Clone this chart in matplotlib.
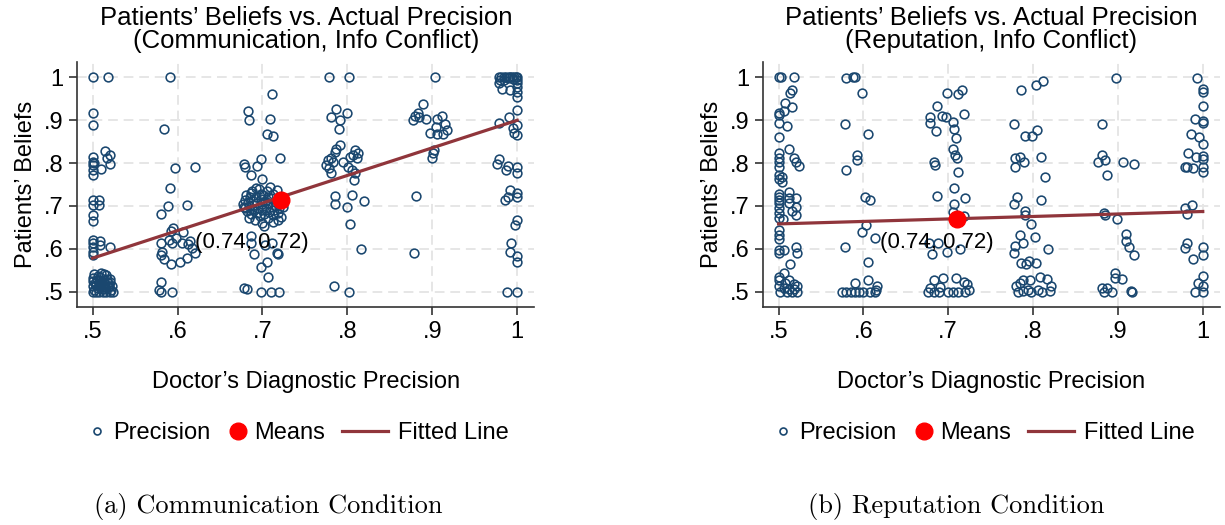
import numpy as np
import matplotlib
matplotlib.use("Agg")
import matplotlib.pyplot as plt
from matplotlib.lines import Line2D

plt.rcParams['font.family'] = ['Liberation Sans', 'DejaVu Sans']

# ---- data ----
ticks = [0.5, 0.6, 0.7, 0.8, 0.9, 1.0]
tick_labels = ['.5', '.6', '.7', '.8', '.9', '1']

comm_pts = [
    # precision .5
    (0.500, 1.000), (0.518, 1.000), (0.500, 0.918), (0.500, 0.889),
    (0.515, 0.829), (0.520, 0.819), (0.517, 0.811), (0.500, 0.815), (0.500, 0.803),
    (0.500, 0.795), (0.500, 0.784), (0.500, 0.772), (0.510, 0.786), (0.520, 0.798),
    (0.502, 0.800), (0.500, 0.714), (0.507, 0.715), (0.507, 0.702), (0.500, 0.702),
    (0.500, 0.679), (0.500, 0.665), (0.500, 0.620), (0.500, 0.613), (0.500, 0.605),
    (0.500, 0.593), (0.509, 0.617), (0.509, 0.609), (0.521, 0.603), (0.500, 0.585),
    (0.500, 0.500), (0.502, 0.504), (0.504, 0.500), (0.506, 0.508), (0.508, 0.500),
    (0.510, 0.512), (0.512, 0.500), (0.514, 0.506), (0.516, 0.500), (0.518, 0.510),
    (0.520, 0.500), (0.522, 0.504), (0.524, 0.500), (0.500, 0.512), (0.503, 0.520),
    (0.505, 0.528), (0.507, 0.516), (0.509, 0.534), (0.511, 0.524), (0.513, 0.540),
    (0.515, 0.518), (0.517, 0.530), (0.519, 0.514), (0.521, 0.522), (0.500, 0.532),
    (0.502, 0.540), (0.504, 0.516), (0.506, 0.536), (0.508, 0.526), (0.510, 0.544),
    (0.512, 0.516), (0.514, 0.528), (0.516, 0.538), (0.518, 0.520), (0.520, 0.530),
    (0.501, 0.524), (0.511, 0.505), (0.523, 0.512), (0.509, 0.520), (0.515, 0.511),
    # precision .6
    (0.591, 1.000), (0.584, 0.880), (0.597, 0.789), (0.620, 0.791), (0.591, 0.743),
    (0.589, 0.701), (0.580, 0.682), (0.611, 0.703), (0.592, 0.642), (0.595, 0.648),
    (0.590, 0.620), (0.580, 0.614), (0.593, 0.614), (0.607, 0.640), (0.605, 0.614),
    (0.615, 0.617), (0.621, 0.591), (0.617, 0.601), (0.580, 0.586), (0.584, 0.575),
    (0.592, 0.565), (0.603, 0.570), (0.611, 0.578), (0.582, 0.593), (0.598, 0.625),
    (0.612, 0.610), (0.580, 0.523), (0.578, 0.504), (0.581, 0.500), (0.594, 0.500),
    # precision .7
    (0.683, 0.922), (0.684, 0.900), (0.711, 0.962), (0.709, 0.903), (0.705, 0.868),
    (0.713, 0.863), (0.721, 0.811), (0.678, 0.799), (0.680, 0.790), (0.693, 0.793),
    (0.698, 0.809), (0.687, 0.772), (0.700, 0.764),
    (0.677, 0.705), (0.679, 0.715), (0.680, 0.695), (0.681, 0.725), (0.682, 0.688),
    (0.683, 0.710), (0.684, 0.700), (0.685, 0.720), (0.686, 0.680), (0.687, 0.730),
    (0.688, 0.692), (0.689, 0.712), (0.690, 0.702), (0.691, 0.668), (0.692, 0.722),
    (0.693, 0.684), (0.694, 0.708), (0.695, 0.696), (0.696, 0.740), (0.697, 0.676),
    (0.698, 0.716), (0.699, 0.690), (0.700, 0.704), (0.700, 0.660), (0.701, 0.726),
    (0.702, 0.682), (0.703, 0.712), (0.704, 0.694), (0.705, 0.735), (0.706, 0.672),
    (0.707, 0.706), (0.708, 0.686), (0.709, 0.744), (0.710, 0.718), (0.711, 0.698),
    (0.712, 0.678), (0.713, 0.728), (0.714, 0.690), (0.715, 0.710), (0.716, 0.700),
    (0.717, 0.738), (0.718, 0.684), (0.719, 0.720), (0.720, 0.694), (0.721, 0.706),
    (0.722, 0.674), (0.723, 0.714), (0.724, 0.698), (0.684, 0.672), (0.692, 0.742),
    (0.702, 0.652), (0.712, 0.662), (0.688, 0.735), (0.698, 0.728), (0.718, 0.668),
    (0.678, 0.698), (0.690, 0.690), (0.706, 0.722),
    (0.686, 0.630), (0.687, 0.614), (0.690, 0.587), (0.703, 0.609), (0.711, 0.614),
    (0.717, 0.591), (0.718, 0.588), (0.698, 0.557), (0.707, 0.533), (0.705, 0.570),
    (0.678, 0.508), (0.682, 0.506), (0.698, 0.500), (0.710, 0.500), (0.719, 0.500),
    # precision .8
    (0.778, 1.000), (0.802, 1.000), (0.787, 0.926), (0.781, 0.907), (0.791, 0.900),
    (0.799, 0.916), (0.790, 0.880), (0.777, 0.807), (0.781, 0.811), (0.783, 0.803),
    (0.775, 0.795), (0.778, 0.788), (0.787, 0.834), (0.791, 0.842), (0.786, 0.826),
    (0.795, 0.803), (0.803, 0.815), (0.809, 0.830), (0.813, 0.824), (0.807, 0.818),
    (0.811, 0.812), (0.801, 0.792), (0.805, 0.784), (0.809, 0.776), (0.808, 0.761),
    (0.781, 0.776), (0.786, 0.723), (0.785, 0.704), (0.805, 0.726), (0.800, 0.698),
    (0.820, 0.712), (0.803, 0.657), (0.816, 0.599), (0.784, 0.513), (0.802, 0.500),
    # precision .9
    (0.903, 1.000), (0.889, 0.937), (0.883, 0.916), (0.880, 0.910), (0.877, 0.900),
    (0.884, 0.907), (0.893, 0.902), (0.905, 0.904), (0.911, 0.911), (0.915, 0.891),
    (0.917, 0.877), (0.913, 0.869), (0.904, 0.885), (0.897, 0.871), (0.906, 0.869),
    (0.902, 0.831), (0.901, 0.824), (0.900, 0.811), (0.881, 0.724), (0.878, 0.591),
    # precision 1
    (0.978, 1.000), (0.981, 1.000), (0.984, 1.000), (0.987, 1.000), (0.990, 1.000),
    (0.992, 1.000), (0.994, 1.000), (0.996, 1.000), (0.998, 1.000), (1.000, 1.000),
    (0.980, 0.995), (0.985, 0.994), (0.995, 0.996), (1.000, 0.993), (1.000, 0.988),
    (0.989, 0.998), (0.979, 0.988), (0.982, 0.972), (0.992, 0.970), (1.000, 0.978),
    (1.000, 0.966), (1.000, 0.955), (1.000, 0.924), (0.990, 0.907), (0.978, 0.894),
    (1.000, 0.889), (0.995, 0.881), (0.996, 0.871), (1.000, 0.866), (0.978, 0.809),
    (0.976, 0.799), (0.989, 0.793), (1.000, 0.792), (0.987, 0.784), (1.000, 0.778),
    (0.992, 0.737), (1.000, 0.731), (0.989, 0.722), (1.000, 0.722), (0.986, 0.714),
    (1.000, 0.666), (0.997, 0.656), (0.993, 0.614), (0.992, 0.593), (1.000, 0.582),
    (1.000, 0.568), (0.988, 0.500), (1.000, 0.500),
]

rep_pts = [
    # precision .5
    (0.500, 1.000), (0.503, 1.000), (0.518, 1.000), (0.516, 0.970), (0.514, 0.964),
    (0.508, 0.941), (0.516, 0.930), (0.506, 0.922), (0.500, 0.916), (0.501, 0.912),
    (0.510, 0.886), (0.500, 0.893), (0.500, 0.862), (0.512, 0.834), (0.500, 0.824),
    (0.500, 0.811), (0.500, 0.803), (0.518, 0.813), (0.520, 0.803), (0.524, 0.793),
    (0.500, 0.792), (0.501, 0.772), (0.504, 0.768), (0.500, 0.764), (0.504, 0.757),
    (0.500, 0.729), (0.512, 0.733), (0.500, 0.722), (0.512, 0.718), (0.520, 0.719),
    (0.500, 0.714), (0.500, 0.706), (0.512, 0.706), (0.521, 0.698), (0.500, 0.694),
    (0.516, 0.687), (0.520, 0.679), (0.500, 0.683), (0.500, 0.671), (0.505, 0.669),
    (0.500, 0.644), (0.500, 0.632), (0.500, 0.623), (0.500, 0.597), (0.500, 0.591),
    (0.506, 0.596), (0.520, 0.603), (0.522, 0.591), (0.514, 0.565),
    (0.506, 0.544), (0.500, 0.535), (0.500, 0.527), (0.512, 0.527), (0.508, 0.521),
    (0.518, 0.518), (0.500, 0.512), (0.506, 0.508), (0.512, 0.506), (0.518, 0.505),
    (0.522, 0.512), (0.502, 0.500), (0.510, 0.500), (0.522, 0.500), (0.516, 0.500),
    # precision .6
    (0.580, 0.998), (0.588, 1.000), (0.590, 1.000), (0.598, 0.964), (0.578, 0.891),
    (0.605, 0.868), (0.592, 0.819), (0.593, 0.807), (0.580, 0.785), (0.602, 0.722),
    (0.608, 0.715), (0.603, 0.656), (0.598, 0.638), (0.614, 0.624), (0.578, 0.603),
    (0.605, 0.569), (0.590, 0.521), (0.605, 0.526), (0.616, 0.513), (0.615, 0.504),
    (0.575, 0.500), (0.580, 0.500), (0.585, 0.500), (0.590, 0.500), (0.595, 0.500),
    (0.600, 0.500), (0.608, 0.500), (0.614, 0.500),
    # precision .7
    (0.699, 0.963), (0.711, 0.961), (0.716, 0.971), (0.687, 0.934), (0.678, 0.908),
    (0.693, 0.910), (0.697, 0.908), (0.678, 0.893), (0.685, 0.876), (0.706, 0.897),
    (0.707, 0.879), (0.719, 0.914), (0.709, 0.858), (0.706, 0.833), (0.708, 0.820),
    (0.710, 0.813), (0.683, 0.803), (0.684, 0.795), (0.711, 0.779), (0.707, 0.743),
    (0.687, 0.724), (0.720, 0.718), (0.707, 0.705), (0.706, 0.685), (0.719, 0.677),
    (0.677, 0.614), (0.681, 0.588), (0.688, 0.614), (0.698, 0.593), (0.714, 0.599),
    (0.683, 0.527), (0.694, 0.531), (0.709, 0.531), (0.718, 0.523), (0.722, 0.518),
    (0.679, 0.508), (0.690, 0.510), (0.676, 0.500), (0.683, 0.500), (0.689, 0.500),
    (0.700, 0.500), (0.706, 0.500), (0.712, 0.500), (0.720, 0.500), (0.724, 0.504),
    # precision .8
    (0.786, 0.970), (0.803, 0.982), (0.812, 0.992), (0.778, 0.891), (0.790, 0.864),
    (0.799, 0.864), (0.805, 0.877), (0.779, 0.811), (0.784, 0.815), (0.779, 0.792),
    (0.789, 0.802), (0.809, 0.815), (0.814, 0.768), (0.781, 0.720), (0.777, 0.705),
    (0.809, 0.714), (0.790, 0.689), (0.791, 0.679), (0.798, 0.657), (0.785, 0.631),
    (0.779, 0.607), (0.788, 0.614), (0.778, 0.591), (0.802, 0.627), (0.818, 0.599),
    (0.786, 0.566), (0.795, 0.572), (0.792, 0.565), (0.803, 0.566), (0.808, 0.533),
    (0.816, 0.529), (0.780, 0.513), (0.784, 0.521), (0.788, 0.527), (0.796, 0.526),
    (0.794, 0.504), (0.782, 0.500), (0.798, 0.500), (0.810, 0.500), (0.820, 0.501),
    (0.821, 0.512), (0.788, 0.502), (0.806, 0.503),
    # precision .9
    (0.898, 0.998), (0.881, 0.891), (0.881, 0.819), (0.885, 0.807), (0.877, 0.802),
    (0.887, 0.772), (0.906, 0.803), (0.919, 0.797), (0.883, 0.684), (0.885, 0.679),
    (0.899, 0.670), (0.909, 0.635), (0.910, 0.617), (0.913, 0.603), (0.919, 0.586),
    (0.896, 0.544), (0.896, 0.531), (0.905, 0.530), (0.881, 0.508), (0.887, 0.508),
    (0.884, 0.500), (0.893, 0.500), (0.916, 0.502), (0.917, 0.500),
    # precision 1
    (0.993, 0.998), (1.000, 0.974), (1.000, 0.965), (1.000, 0.934), (0.991, 0.904),
    (1.000, 0.899), (1.000, 0.893), (0.986, 0.869), (0.995, 0.860), (1.000, 0.844),
    (0.983, 0.823), (0.992, 0.815), (1.000, 0.817), (1.000, 0.809), (0.979, 0.790),
    (0.982, 0.792), (0.988, 0.788), (1.000, 0.790), (1.000, 0.780), (0.979, 0.694),
    (0.987, 0.702), (0.982, 0.681), (0.981, 0.614), (0.979, 0.601), (0.989, 0.576),
    (1.000, 0.603), (1.000, 0.586), (1.000, 0.537), (0.994, 0.521), (1.000, 0.512),
    (0.991, 0.500), (1.000, 0.500),
]

comm_mean = (0.722, 0.714)
rep_mean = (0.7105, 0.669)
mean_label = '(0.74, 0.72)'

fit_x = [0.5, 1.0]
comm_fit_y = [0.578, 0.900]
rep_fit_y = [0.658, 0.687]

titles = ['Patients\u2019 Beliefs vs. Actual Precision\n(Communication, Info Conflict)',
          'Patients\u2019 Beliefs vs. Actual Precision\n(Reputation, Info Conflict)']
captions = ['(a) Communication Condition', '(b) Reputation Condition']

navy = '#1a476f'
cranberry = '#90353b'

fig = plt.figure(figsize=(12.25, 5.25), dpi=100)
ax_l = fig.add_axes([0.0631, 0.4152, 0.373, 0.4667])
ax_r = fig.add_axes([0.6231, 0.4152, 0.3726, 0.4667])

panels = [(ax_l, comm_pts, comm_mean, comm_fit_y, titles[0]),
          (ax_r, rep_pts, rep_mean, rep_fit_y, titles[1])]

for ax, pts, mean, fit_y, title in panels:
    pts = np.array(pts)
    ax.plot(pts[:, 0], pts[:, 1], 'o', ls='none', mfc='none', mec=navy,
            ms=6.3, mew=1.15, zorder=3)
    ax.plot(fit_x, fit_y, color=cranberry, lw=2.3, zorder=4)
    ax.plot([mean[0]], [mean[1]], 'o', color='red', ms=12, zorder=5)
    ax.text(0.62, 0.614, mean_label, fontsize=16, va='center', ha='left', zorder=6)

    ax.set_xlim(0.482, 1.02)
    ax.set_ylim(0.464, 1.036)
    ax.set_xticks(ticks)
    ax.set_xticklabels(tick_labels)
    ax.set_yticks(ticks)
    ax.set_yticklabels(tick_labels)
    ax.tick_params(labelsize=17, length=6, width=1.2, color='#333333', pad=4)
    ax.grid(True, color='#e6e6e6', ls=(0, (5, 3)), lw=1.4, zorder=0)
    ax.set_axisbelow(True)
    for s in ['top', 'right']:
        ax.spines[s].set_visible(False)
    for s in ['left', 'bottom']:
        ax.spines[s].set_color('#333333')
        ax.spines[s].set_linewidth(1.2)

    ax.set_xlabel('Doctor\u2019s Diagnostic Precision', fontsize=17, labelpad=20)
    ax.set_ylabel('Patients\u2019 Beliefs', fontsize=17, labelpad=5)
    ax.set_title(title, fontsize=18.5, linespacing=0.95, pad=10)

    # legend: markers and line need different handle lengths
    leg1 = ax.legend(
        [Line2D([], [], marker='o', ls='none', mfc='none', mec=navy, ms=5, mew=1.2),
         Line2D([], [], marker='o', ls='none', color='red', ms=12)],
        ['Precision', 'Means'], loc='center left', bbox_to_anchor=(0.025, -0.515),
        ncol=2, frameon=False, fontsize=17, handlelength=0.7, handletextpad=0.35,
        columnspacing=0.8, borderpad=0, borderaxespad=0)
    ax.add_artist(leg1)
    ax.legend([Line2D([], [], color=cranberry, lw=2.3)], ['Fitted Line'],
              loc='center left', bbox_to_anchor=(0.579, -0.515), frameon=False,
              fontsize=17, handlelength=1.95, handletextpad=0.42,
              borderpad=0, borderaxespad=0)

fig.text(268 / 1225, 1 - 506 / 525, captions[0], family='cmr10', fontsize=19,
         ha='center', va='center')
fig.text(956 / 1225, 1 - 506 / 525, captions[1], family='cmr10', fontsize=19,
         ha='center', va='center')

fig.savefig('out.png', dpi=100)
